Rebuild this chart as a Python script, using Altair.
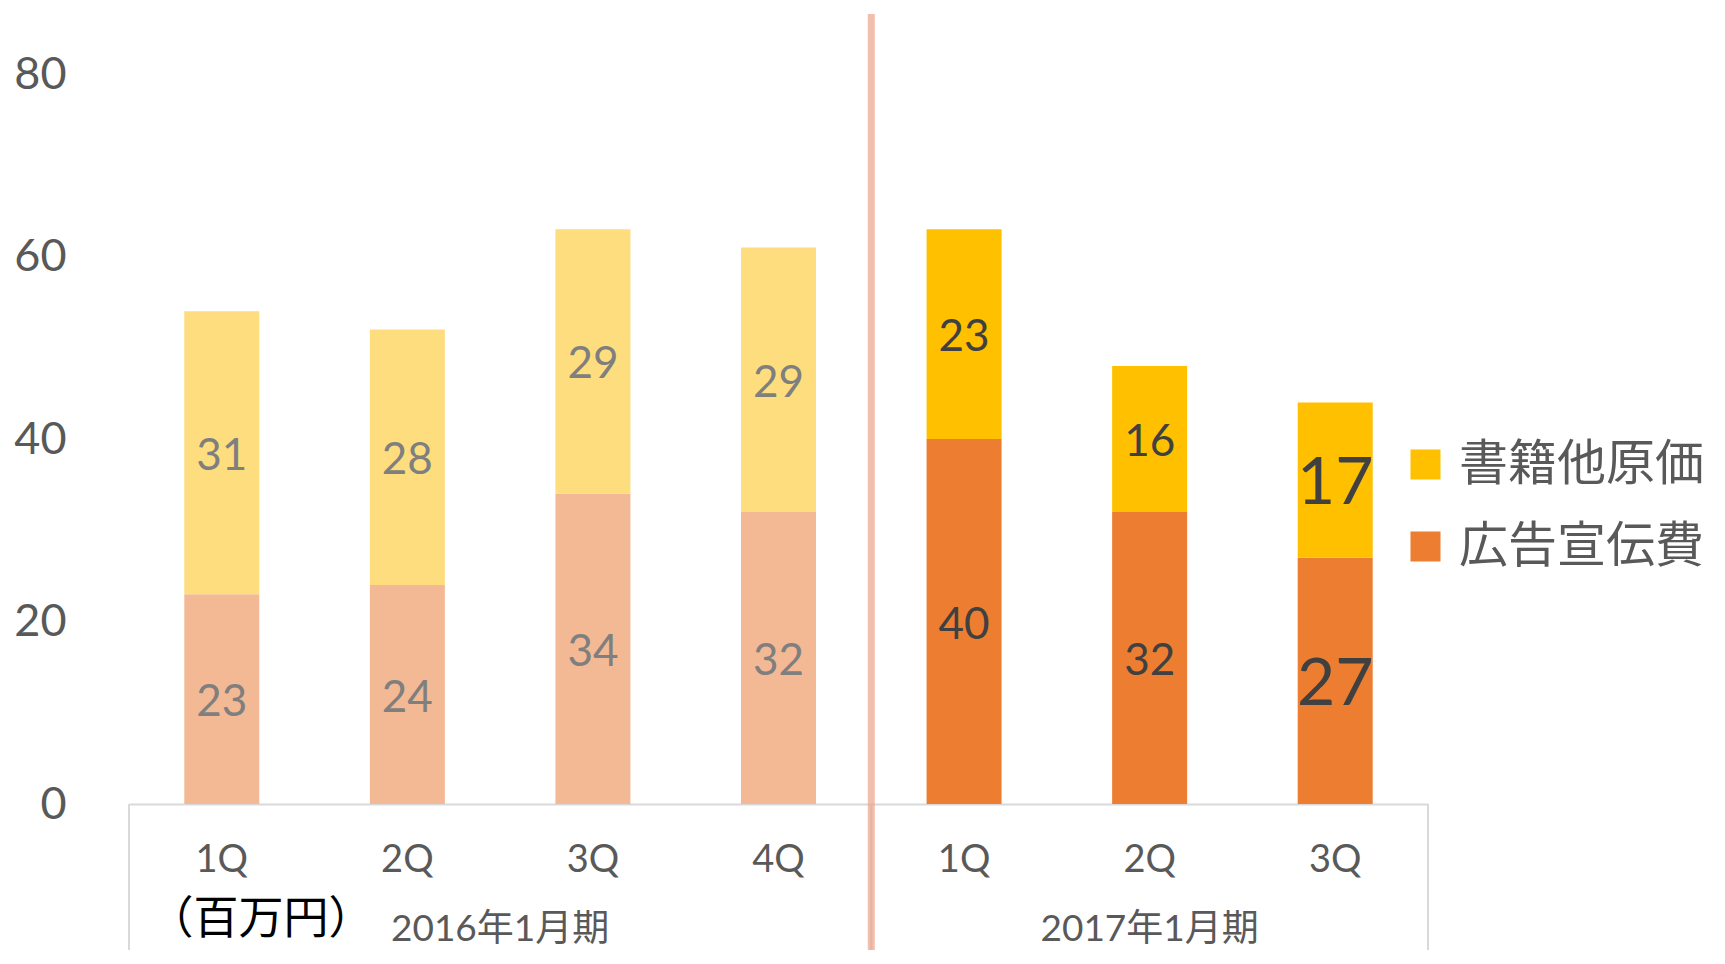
import altair as alt
import pandas as pd

# ---- data ----
periods = ["2016年1月期", "2016年1月期", "2016年1月期", "2016年1月期",
           "2017年1月期", "2017年1月期", "2017年1月期"]
quarters = ["1Q", "2Q", "3Q", "4Q", "1Q", "2Q", "3Q"]
ad_costs = [23, 24, 34, 32, 40, 32, 27]        # 広告宣伝費
book_costs = [31, 28, 29, 29, 23, 16, 17]      # 書籍他原価
series_names = ["書籍他原価", "広告宣伝費"]
groups = ["2016年1月期", "2017年1月期"]
unit_label = "（百万円）"
y_ticks = [0, 20, 40, 60, 80]

pos_ids = [f"{p}-{q}" for p, q in zip(periods, quarters)]

rows = []
for pid, p, q, a, b in zip(pos_ids, periods, quarters, ad_costs, book_costs):
    rows.append({"pos": pid, "period": p, "quarter": q, "series": "広告宣伝費", "value": a})
    rows.append({"pos": pid, "period": p, "quarter": q, "series": "書籍他原価", "value": b})
df = pd.DataFrame(rows)

FONT = "Lato, 'Noto Sans CJK JP', sans-serif"
CJK = "'Noto Sans CJK JP', sans-serif"
W, H = 1299, 730

color_domain = ["書籍他原価", "広告宣伝費", "書籍他原価_old", "広告宣伝費_old"]
color_range = ["#FFC000", "#ED7D31", "#FEDD7E", "#F2B994"]

x_enc = alt.X("pos:N", sort=pos_ids, title=None,
              scale=alt.Scale(paddingInner=0, paddingOuter=0),
              axis=alt.Axis(labelExpr="split(datum.label, '-')[1]",
                            labelFont=FONT, labelFontSize=38, labelColor="#595959",
                            labelAngle=0, labelBaseline="middle", labelPadding=56,
                            ticks=False, tickSize=0, domainColor="#D9D9D9",
                            domainWidth=2, grid=False))

base = alt.Chart(df).transform_calculate(
    rank="datum.series == '広告宣伝費' ? 0 : 1",
    ckey="indexof(datum.period, '2017') == 0 ? datum.series : datum.series + '_old'",
).transform_stack(
    stack="value", groupby=["pos"], as_=["y0", "y1"], sort=[alt.SortField("rank")]
).transform_calculate(mid="(datum.y0 + datum.y1) / 2")

y_scale = alt.Scale(domain=[0, 80], nice=False)

bars = base.mark_bar(width=75).encode(
    x=x_enc,
    y=alt.Y("y0:Q", scale=y_scale, title=None,
            axis=alt.Axis(values=y_ticks, labelFont=FONT, labelFontSize=45,
                          labelColor="#595959", ticks=False, tickSize=0,
                          domain=False, grid=False, labelPadding=63)),
    y2="y1:Q",
    color=alt.Color("ckey:N",
                    scale=alt.Scale(domain=color_domain, range=color_range),
                    legend=alt.Legend(values=series_names, title=None, orient="none",
                                      legendX=1272, legendY=366, padding=0, offset=0,
                                      symbolType="square", symbolSize=900,
                                      symbolStrokeWidth=0, symbolOpacity=1,
                                      labelFont=CJK, labelFontSize=49,
                                      labelColor="#595959", labelOffset=9,
                                      rowPadding=32, labelLimit=500)),
)

labels = base.mark_text(font=FONT, baseline="middle", align="center", dy=4).encode(
    x=alt.X("pos:N", sort=pos_ids),
    y=alt.Y("mid:Q", scale=y_scale),
    text=alt.Text("value:Q"),
    color=alt.condition("indexof(datum.period, '2017') == 0",
                        alt.value("#404040"), alt.value("#7F7F7F")),
    size=alt.condition(f"datum.pos == '{pos_ids[-1]}'",
                       alt.value(66), alt.value(44)),
)

# box lines of the category axis (group boundaries)
bounds_df = pd.DataFrame({"pos": [pos_ids[0], pos_ids[4]]})
end_df = pd.DataFrame({"pos": [pos_ids[-1]]})
box_left = alt.Chart(bounds_df).mark_rule(color="#D9D9D9", strokeWidth=2).encode(
    x=alt.X("pos:N", sort=pos_ids, bandPosition=0),
    y=alt.value(H), y2=alt.value(H + 200))
box_right = alt.Chart(end_df).mark_rule(color="#D9D9D9", strokeWidth=2).encode(
    x=alt.X("pos:N", sort=pos_ids, bandPosition=1),
    y=alt.value(H), y2=alt.value(H + 200))

# divider between fiscal periods
div_df = pd.DataFrame({"pos": [pos_ids[4]]})
divider = alt.Chart(div_df).mark_rule(color="#EDA28A", strokeWidth=7, opacity=0.7).encode(
    x=alt.X("pos:N", sort=pos_ids, bandPosition=0),
    y=alt.value(-60), y2=alt.value(H + 200))

# group labels
g1_df = pd.DataFrame({"pos": [pos_ids[2]], "label": [groups[0]]})
g2_df = pd.DataFrame({"pos": [pos_ids[5]], "label": [groups[1]]})
g1 = alt.Chart(g1_df).mark_text(font=FONT, fontSize=37, color="#595959",
                                baseline="middle", align="center").encode(
    x=alt.X("pos:N", sort=pos_ids, bandPosition=0), y=alt.value(856), text="label:N")
g2 = alt.Chart(g2_df).mark_text(font=FONT, fontSize=37, color="#595959",
                                baseline="middle", align="center").encode(
    x=alt.X("pos:N", sort=pos_ids, bandPosition=0.5), y=alt.value(856), text="label:N")

unit = alt.Chart(pd.DataFrame({"t": [unit_label]})).mark_text(
    font=CJK, fontSize=45, color="#000000", baseline="middle", align="center").encode(
    x=alt.value(132), y=alt.value(846), text="t:N")

chart = alt.layer(bars, labels, box_left, box_right, divider, g1, g2, unit).properties(
    width=W, height=H,
    autosize=alt.AutoSizeParams(type="none"),
    padding={"left": 121, "top": 66, "right": 280, "bottom": 146},
).configure(background="white").configure_view(stroke=None)

chart.save("out.html", embed_options={"renderer": "svg", "actions": False})
